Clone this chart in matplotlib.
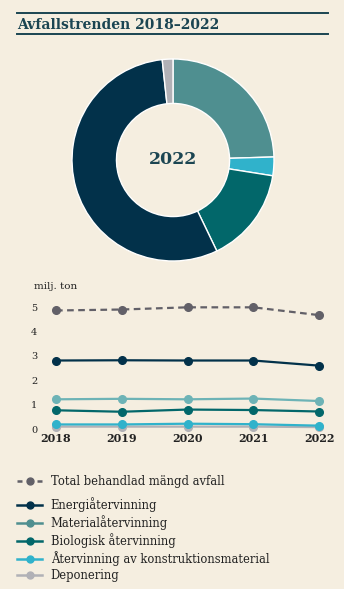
import numpy as np
import matplotlib.pyplot as plt
from matplotlib.lines import Line2D

# data (milj. ton)
years = [2018, 2019, 2020, 2021, 2022]
total = [4.86, 4.90, 4.99, 4.99, 4.67]
energi = [2.81, 2.82, 2.81, 2.81, 2.60]
material = [1.22, 1.24, 1.22, 1.25, 1.15]
biologisk = [0.77, 0.71, 0.80, 0.78, 0.72]
konstruktion = [0.19, 0.19, 0.22, 0.20, 0.14]
deponering = [0.10, 0.10, 0.10, 0.10, 0.08]

namn = ["Energiåtervinning", "Materialåtervinning", "Biologisk återvinning",
        "Återvinning av konstruktionsmaterial", "Deponering"]
yticks = [0, 1, 2, 3, 4, 5]

bg = "#f5eee0"
mork = "#1b4552"
c_total = "#626068"
c_energi = "#02314a"
c_material = "#4f8f90"
c_material_linje = "#6db3b6"
c_bio = "#02676a"
c_konstr = "#30b2cb"
c_dep = "#b1b1b6"

W, H = 344, 589
fig = plt.figure(figsize=(W / 100, H / 100), dpi=100, facecolor=bg)
serif = ["DejaVu Serif"]

def px(x0, y0, x1, y1):
    # pixel box (top-left origin) -> figure fraction rect
    return [x0 / W, 1 - y1 / H, (x1 - x0) / W, (y1 - y0) / H]

# title with rules
for y in (13, 34):
    fig.add_artist(Line2D([17 / W, 328 / W], [1 - y / H, 1 - y / H],
                          color=mork, lw=1.4))
fig.text(17 / W, 1 - 29 / H, "Avfallstrenden 2018–2022", family=serif,
         fontweight="bold", fontsize=10, color=mork, va="baseline")

# donut for 2022, clockwise from top
ax1 = fig.add_axes(px(71, 58, 275, 262))
ax1.set_facecolor(bg)
vals = [material[-1], konstruktion[-1], biologisk[-1], energi[-1], deponering[-1]]
cols = [c_material, c_konstr, c_bio, c_energi, c_dep]
ax1.pie(vals, colors=cols, startangle=90, counterclock=False, radius=1,
        wedgeprops=dict(width=0.44, edgecolor="white", linewidth=1.0))
ax1.text(0, 0, "2022", ha="center", va="center", family=serif,
         fontweight="bold", fontsize=12.5, color=mork)
ax1.set_xlim(-1.01, 1.01)
ax1.set_ylim(-1.01, 1.01)
ax1.set_aspect("equal")
ax1.axis("off")

# line chart
ax2 = fig.add_axes(px(40, 300, 335, 432))
ax2.set_facecolor(bg)
ax2.patch.set_alpha(0)
serier = [(deponering, c_dep), (konstruktion, c_konstr), (biologisk, c_bio),
          (material, c_material_linje), (energi, c_energi)]
for s, c in serier:
    ax2.plot(years, s, color=c, lw=1.6, marker="o", ms=5.5)
ax2.plot(years, total, color=c_total, lw=1.6, ls=(0, (3, 2)), marker="o", ms=5.5)
ax2.set_xlim(2017.757, 2022.243)
ax2.set_ylim(-0.12, 5.29)
ax2.set_xticks(years)
ax2.set_xticklabels([str(y) for y in years], family=serif, fontweight="bold",
                    fontsize=8, color="#222222")
ax2.set_yticks(yticks)
ax2.set_yticklabels([str(v) for v in yticks], family=serif, fontsize=7,
                    color="#222222")
ax2.tick_params(length=0, pad=1)
ax2.tick_params(axis="y", pad=2)
for sp in ax2.spines.values():
    sp.set_visible(False)
fig.text(34 / W, 1 - 289 / H, "milj. ton", family=serif, fontsize=7.5,
         color="#222222", va="baseline")

# legend
def handtag(c, ls="-"):
    return Line2D([], [], color=c, lw=1.8, ls=ls, marker="o", ms=5)

font = dict(family=serif, size=8.3)
leg1 = fig.legend([handtag(c_total, (0, (2, 2)))], ["Total behandlad mängd avfall"],
                  loc="upper left", bbox_to_anchor=(12.5 / W, 1 - 470 / H),
                  frameon=False, handlelength=2.2, handletextpad=0.7,
                  borderaxespad=0, prop=font, labelcolor="#222222")
fig.legend([handtag(c) for c in [c_energi, c_material, c_bio, c_konstr, c_dep]],
           namn, loc="upper left", bbox_to_anchor=(12.5 / W, 1 - 493 / H),
           frameon=False, handlelength=2.2, handletextpad=0.7, labelspacing=0.26,
           borderaxespad=0, prop=font, labelcolor="#222222")

fig.savefig("out.png", dpi=100, facecolor=bg)
